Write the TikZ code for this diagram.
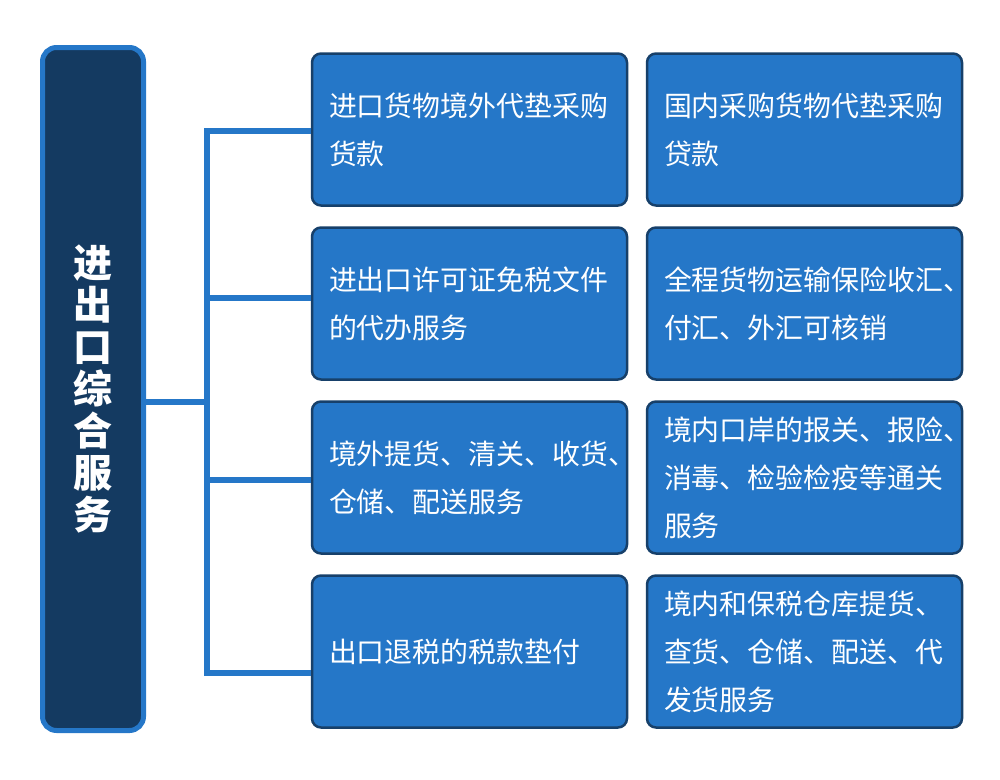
\documentclass[tikz,border=0pt]{standalone}
\usepackage{fontspec}
\newfontfamily\cjk{Noto Sans CJK SC}
\definecolor{boxblue}{HTML}{2577C8}
\definecolor{navy}{HTML}{143A61}
\definecolor{edgenavy}{HTML}{17406A}
\begin{document}
\begin{tikzpicture}[x=1pt,y=-1pt,
  item/.style={draw=edgenavy,line width=2.5pt,fill=boxblue,rounded corners=9pt,
    minimum width=315pt,minimum height=152pt,text width=281pt,inner xsep=17pt,
    align=left,text=white,font=\cjk\fontsize{27.9}{48}\selectfont},
  title/.style={draw=boxblue,line width=5pt,fill=navy,rounded corners=14pt,
    minimum width=101pt,minimum height=683pt,inner sep=0pt,align=center,text=white,
    font=\cjk\bfseries\fontsize{39}{42}\selectfont},
  link/.style={draw=boxblue,line width=6pt}]
\useasboundingbox (0,0) rectangle (1000,779);
\node[title] (t) at (93,389) {进\\出\\口\\综\\合\\服\\务};
\node[item] (a1) at (469.5,129.5) {进口货物境外代垫采购\\货款};
\node[item] (b1) at (804.5,129.5) {国内采购货物代垫采购\\贷款};
\node[item] (a2) at (469.5,303.5) {进出口许可证免税文件\\的代办服务};
\node[item] (b2) at (804.5,303.5) {全程货物运输保险收汇、\\付汇、外汇可核销};
\node[item] (a3) at (469.5,477.5) {境外提货、清关、收货、\\仓储、配送服务};
\node[item] (b3) at (804.5,477.5) {境内口岸的报关、报险、\\消毒、检验检疫等通关\\服务};
\node[item] (a4) at (469.5,651.5) {出口退税的税款垫付};
\node[item] (b4) at (804.5,651.5) {境内和保税仓库提货、\\查货、仓储、配送、代\\发货服务};
\coordinate (j1) at (207,131);
\coordinate (j2) at (207,298);
\coordinate (j3) at (207,480);
\coordinate (j4) at (207,673);
\coordinate (jm) at (207,402);
\draw[link] (t.east |- jm) -- (jm);
\draw[link] ([yshift=3pt]j1) -- ([yshift=-3pt]j4);
\draw[link] ([xshift=-3pt]j1) -- (a1.west |- j1);
\draw[link] (j2) -- (a2.west |- j2);
\draw[link] (j3) -- (a3.west |- j3);
\draw[link] ([xshift=-3pt]j4) -- (a4.west |- j4);
\end{tikzpicture}
\end{document}
